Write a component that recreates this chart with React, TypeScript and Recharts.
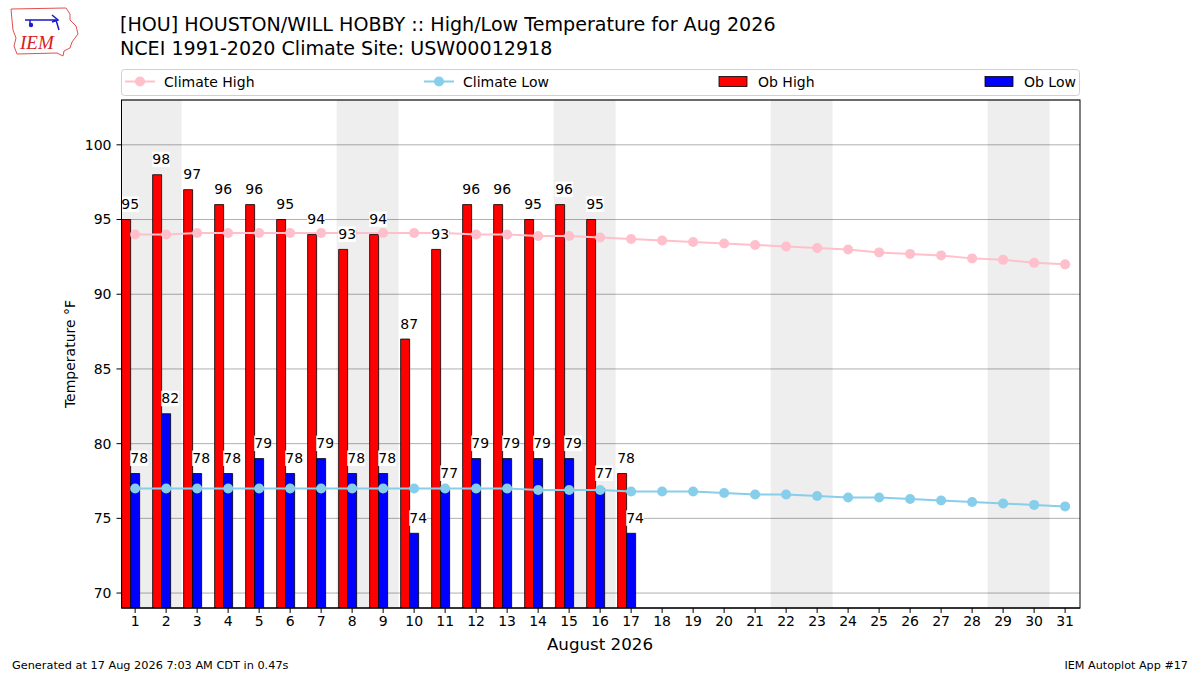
import {
  Bar,
  CartesianGrid,
  ComposedChart,
  LabelList,
  Line,
  ReferenceArea,
  XAxis,
  YAxis,
} from "recharts";

const days = [
  1, 2, 3, 4, 5, 6, 7, 8, 9, 10, 11, 12, 13, 14, 15, 16, 17, 18, 19, 20, 21,
  22, 23, 24, 25, 26, 27, 28, 29, 30, 31,
];
// observed so far (month in progress)
const obHigh = [95, 98, 97, 96, 96, 95, 94, 93, 94, 87, 93, 96, 96, 95, 96, 95, 78];
const obLow = [78, 82, 78, 78, 79, 78, 79, 78, 78, 74, 77, 79, 79, 79, 79, 77, 74];
const climateHigh = [
  94.0, 94.0, 94.1, 94.1, 94.1, 94.1, 94.1, 94.1, 94.1, 94.1, 94.1, 94.0, 94.0,
  93.9, 93.9, 93.8, 93.7, 93.6, 93.5, 93.4, 93.3, 93.2, 93.1, 93.0, 92.8, 92.7,
  92.6, 92.4, 92.3, 92.1, 92.0,
];
const climateLow = [
  77.0, 77.0, 77.0, 77.0, 77.0, 77.0, 77.0, 77.0, 77.0, 77.0, 77.0, 77.0, 77.0,
  76.9, 76.9, 76.9, 76.8, 76.8, 76.8, 76.7, 76.6, 76.6, 76.5, 76.4, 76.4, 76.3,
  76.2, 76.1, 76.0, 75.9, 75.8,
];
const weekendStarts = [1, 8, 15, 22, 29];
const yTicks = [70, 75, 80, 85, 90, 95, 100];

const legendItems = [
  { name: "Climate High", kind: "line", color: "#ffc0cb", x: 4 },
  { name: "Climate Low", kind: "line", color: "#87ceeb", x: 303 },
  { name: "Ob High", kind: "bar", color: "#ff0000", x: 598 },
  { name: "Ob Low", kind: "bar", color: "#0000ff", x: 864 },
];

const data = days.map((day, i) => ({
  day,
  climateHigh: climateHigh[i],
  climateLow: climateLow[i],
  obHigh: obHigh[i] ?? null,
  obLow: obLow[i] ?? null,
}));

const FONT = "DejaVu Sans, sans-serif";
const plot = { left: 121.5, top: 100, right: 1080, bottom: 608 };
const xDomain = [0.56, 31.48];
const barShift = 0.129; // bars sit a bit left of the day tick

function BarValue(props: any) {
  const { x, y, width, value } = props;
  if (value === null || value === undefined) return null;
  const cx = Number(x) + Number(width) / 2 + 4;
  const base = Number(y) - 10.5;
  const text = String(value);
  const w = text.length * 8.9;
  return (
    <g>
      <rect x={cx - w / 2} y={base - 12.5} width={w} height={15.5} fill="#ffffff" />
      <text x={cx} y={base} textAnchor="middle" fontSize={14} fontFamily={FONT} fill="#000">
        {text}
      </text>
    </g>
  );
}

function Legend() {
  return (
    <g transform="translate(121 69)">
      <rect x={0.5} y={0.5} width={958} height={26} rx={3} fill="#fff" stroke="#d0d0d0" />
      {legendItems.map((item) => (
        <g key={item.name} transform={`translate(${item.x} 0)`}>
          {item.kind === "line" ? (
            <g>
              <line x1={0} x2={30} y1={12.5} y2={12.5} stroke={item.color} strokeWidth={2} />
              <circle cx={15} cy={12.5} r={5} fill={item.color} />
            </g>
          ) : (
            <rect x={0} y={7.5} width={28} height={10} fill={item.color} stroke="#000" strokeWidth={0.8} />
          )}
          <text x={39} y={17.5} fontSize={14} fontFamily={FONT} fill="#000">
            {item.name}
          </text>
        </g>
      ))}
    </g>
  );
}

function Decorations() {
  return (
    <svg
      width={1200}
      height={675}
      style={{ position: "absolute", left: 0, top: 0, pointerEvents: "none" }}
    >
      {/* IEM logo, roughly */}
      <g>
        <path
          d="M11 9 L66 8 L70 14 L70 20 L76 26 L78 34 L72 42 L70 48 L64 51 L63 56 L57 53 L17 54 L14 46 L16 38 L13 30 L12 20 Z"
          fill="none"
          stroke="#e05050"
          strokeWidth={1}
        />
        <path d="M25 20 L56 20 M30 20 L30 24 M52 15 L58 20 L52 22 M56 20 L59 30" stroke="#1a1acc" strokeWidth={1.5} fill="none" />
        <circle cx={31} cy={25} r={2.2} fill="#1a1acc" />
        <text x={20} y={49} fontSize={19} fontFamily="Liberation Serif, serif" fontStyle="italic" fill="#d42020">
          IEM
        </text>
      </g>
      <text x={120} y={31} fontSize={19.1} fontFamily={FONT} fill="#000">
        [HOU] HOUSTON/WILL HOBBY :: High/Low Temperature for Aug 2026
      </text>
      <text x={120} y={55} fontSize={19.1} fontFamily={FONT} fill="#000">
        NCEI 1991-2020 Climate Site: USW00012918
      </text>
      <Legend />
      <rect
        x={plot.left}
        y={plot.top}
        width={plot.right - plot.left}
        height={plot.bottom - plot.top}
        fill="none"
        stroke="#000"
        strokeWidth={1}
      />
      <text
        transform="translate(75 354) rotate(-90)"
        textAnchor="middle"
        fontSize={14}
        fontFamily={FONT}
        fill="#000"
      >
        Temperature °F
      </text>
      <text x={600} y={650} textAnchor="middle" fontSize={16.7} fontFamily={FONT} fill="#000">
        August 2026
      </text>
      <text x={12} y={669} fontSize={11.3} fontFamily={FONT} fill="#000">
        Generated at 17 Aug 2026 7:03 AM CDT in 0.47s
      </text>
      <text x={1188} y={669} textAnchor="end" fontSize={11.2} fontFamily={FONT} fill="#000">
        IEM Autoplot App #17
      </text>
    </svg>
  );
}

export default function App() {
  return (
    <div
      style={{
        position: "absolute",
        left: 0,
        top: 0,
        width: 1200,
        height: 675,
        background: "#fff",
        fontFamily: FONT,
      }}
    >
      <ComposedChart
        width={1200}
        height={675}
        data={data}
        margin={{ top: plot.top, right: 1200 - plot.right, bottom: 37, left: plot.left - 60 }}
        barGap={0}
      >
        <CartesianGrid vertical={false} stroke="#b0b0b0" strokeWidth={1} />
        {weekendStarts.map((d) => (
          <ReferenceArea
            key={d}
            xAxisId="days"
            x1={d - 0.5}
            x2={d + 1.5}
            fill="#000000"
            fillOpacity={0.067}
            strokeOpacity={0}
            ifOverflow="hidden"
          />
        ))}
        <XAxis
          xAxisId="days"
          dataKey="day"
          type="number"
          domain={xDomain}
          allowDataOverflow
          ticks={days}
          interval={0}
          height={30}
          tickSize={5}
          tickMargin={3}
          stroke="#000"
          tick={{ fontSize: 14, fill: "#000", fontFamily: FONT }}
        />
        <XAxis
          xAxisId="bars"
          dataKey="day"
          type="number"
          domain={[xDomain[0] + barShift, xDomain[1] + barShift]}
          allowDataOverflow
          height={0}
          hide
        />
        <YAxis
          domain={[69, 103]}
          ticks={yTicks}
          allowDataOverflow
          width={60}
          tickSize={5}
          tickMargin={5}
          stroke="#000"
          tick={{ fontSize: 14, fill: "#000", fontFamily: FONT }}
        />
        <Bar
          xAxisId="bars"
          dataKey="obHigh"
          name="Ob High"
          fill="#ff0000"
          stroke="#000"
          strokeWidth={0.8}
          barSize={9}
          isAnimationActive={false}
        >
          <LabelList dataKey="obHigh" content={BarValue} />
        </Bar>
        <Bar
          xAxisId="bars"
          dataKey="obLow"
          name="Ob Low"
          fill="#0000ff"
          stroke="#000"
          strokeWidth={0.8}
          barSize={9}
          isAnimationActive={false}
        >
          <LabelList dataKey="obLow" content={BarValue} />
        </Bar>
        <Line
          xAxisId="days"
          dataKey="climateHigh"
          name="Climate High"
          stroke="#ffc0cb"
          strokeWidth={2}
          dot={{ r: 5, fill: "#ffc0cb", stroke: "#ffc0cb", strokeWidth: 0 }}
          isAnimationActive={false}
        />
        <Line
          xAxisId="days"
          dataKey="climateLow"
          name="Climate Low"
          stroke="#87ceeb"
          strokeWidth={2}
          dot={{ r: 5, fill: "#87ceeb", stroke: "#87ceeb", strokeWidth: 0 }}
          isAnimationActive={false}
        />
      </ComposedChart>
      <Decorations />
    </div>
  );
}
